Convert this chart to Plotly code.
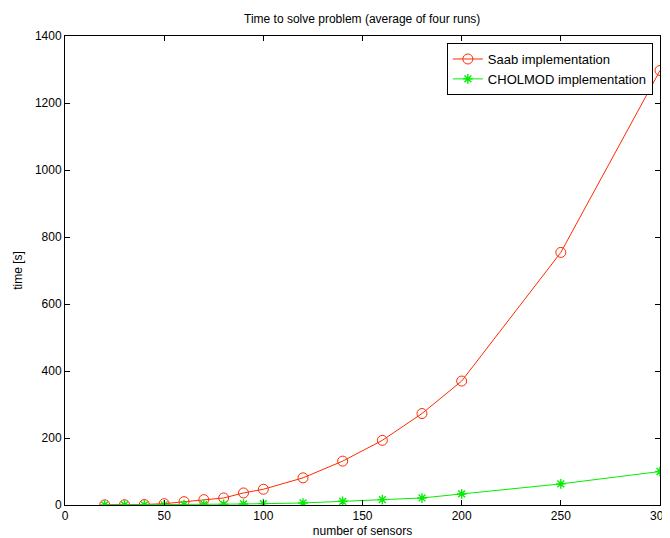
import plotly.graph_objects as go

sensors = [20, 30, 40, 50, 60, 70, 80, 90, 100, 120, 140, 160, 180, 200, 250, 300]
saab_time = [0.5, 0.8, 1.5, 4, 10, 16, 21, 36, 47, 81, 131, 193, 273, 370, 754, 1297]
cholmod_time = [0.2, 0.3, 0.5, 0.7, 1, 1.5, 2, 3, 4, 6, 11, 16, 21, 33, 63, 100]

x_ticks = [0, 50, 100, 150, 200, 250, 300]
y_ticks = [0, 200, 400, 600, 800, 1000, 1200, 1400]

font = "Liberation Sans, Arial, sans-serif"

fig = go.Figure()
fig.add_trace(go.Scatter(
    x=sensors, y=saab_time, mode="lines+markers", name="Saab implementation",
    line=dict(color="#ff2a00", width=1),
    marker=dict(symbol="circle-open", size=10, color="#ff2a00", line=dict(width=1)),
))
fig.add_trace(go.Scatter(
    x=sensors, y=cholmod_time, mode="lines+markers", name="CHOLMOD implementation",
    line=dict(color="#00ee00", width=1),
    marker=dict(symbol="asterisk-open", size=8, color="#00ee00", line=dict(width=1.4, color="#00ee00")),
))

axis_common = dict(
    showgrid=False, zeroline=False, showline=True, linecolor="black", linewidth=1,
    mirror="ticks", ticks="inside", ticklen=5, tickcolor="black", automargin=False,
    ticklabeloverflow="allow",
    tickfont=dict(family=font, size=12, color="black"),
)

fig.update_layout(
    width=662, height=530,
    margin=dict(l=57, r=10, t=28, b=33),
    paper_bgcolor="white", plot_bgcolor="white",
    font=dict(family=font, size=12, color="black"),
    title=dict(text="Time to solve problem (average of four runs)", x=0.535, xanchor="center",
               y=0.979, yanchor="middle", font=dict(family=font, size=12, color="black")),
    xaxis=dict(range=[0, 300], tickvals=x_ticks,
               title=dict(text="number of sensors", standoff=5, font=dict(family=font, size=12)),
               **axis_common),
    yaxis=dict(range=[0, 1400], tickvals=y_ticks,
               title=dict(text="time [s]", standoff=9, font=dict(family=font, size=12)),
               **axis_common),
    legend=dict(x=0.988, y=0.985, xanchor="right", yanchor="top",
                bgcolor="white", bordercolor="black", borderwidth=1,
                font=dict(family=font, size=13), tracegroupgap=0,
                itemwidth=30),
    showlegend=True,
)

fig.write_html("out.html")
